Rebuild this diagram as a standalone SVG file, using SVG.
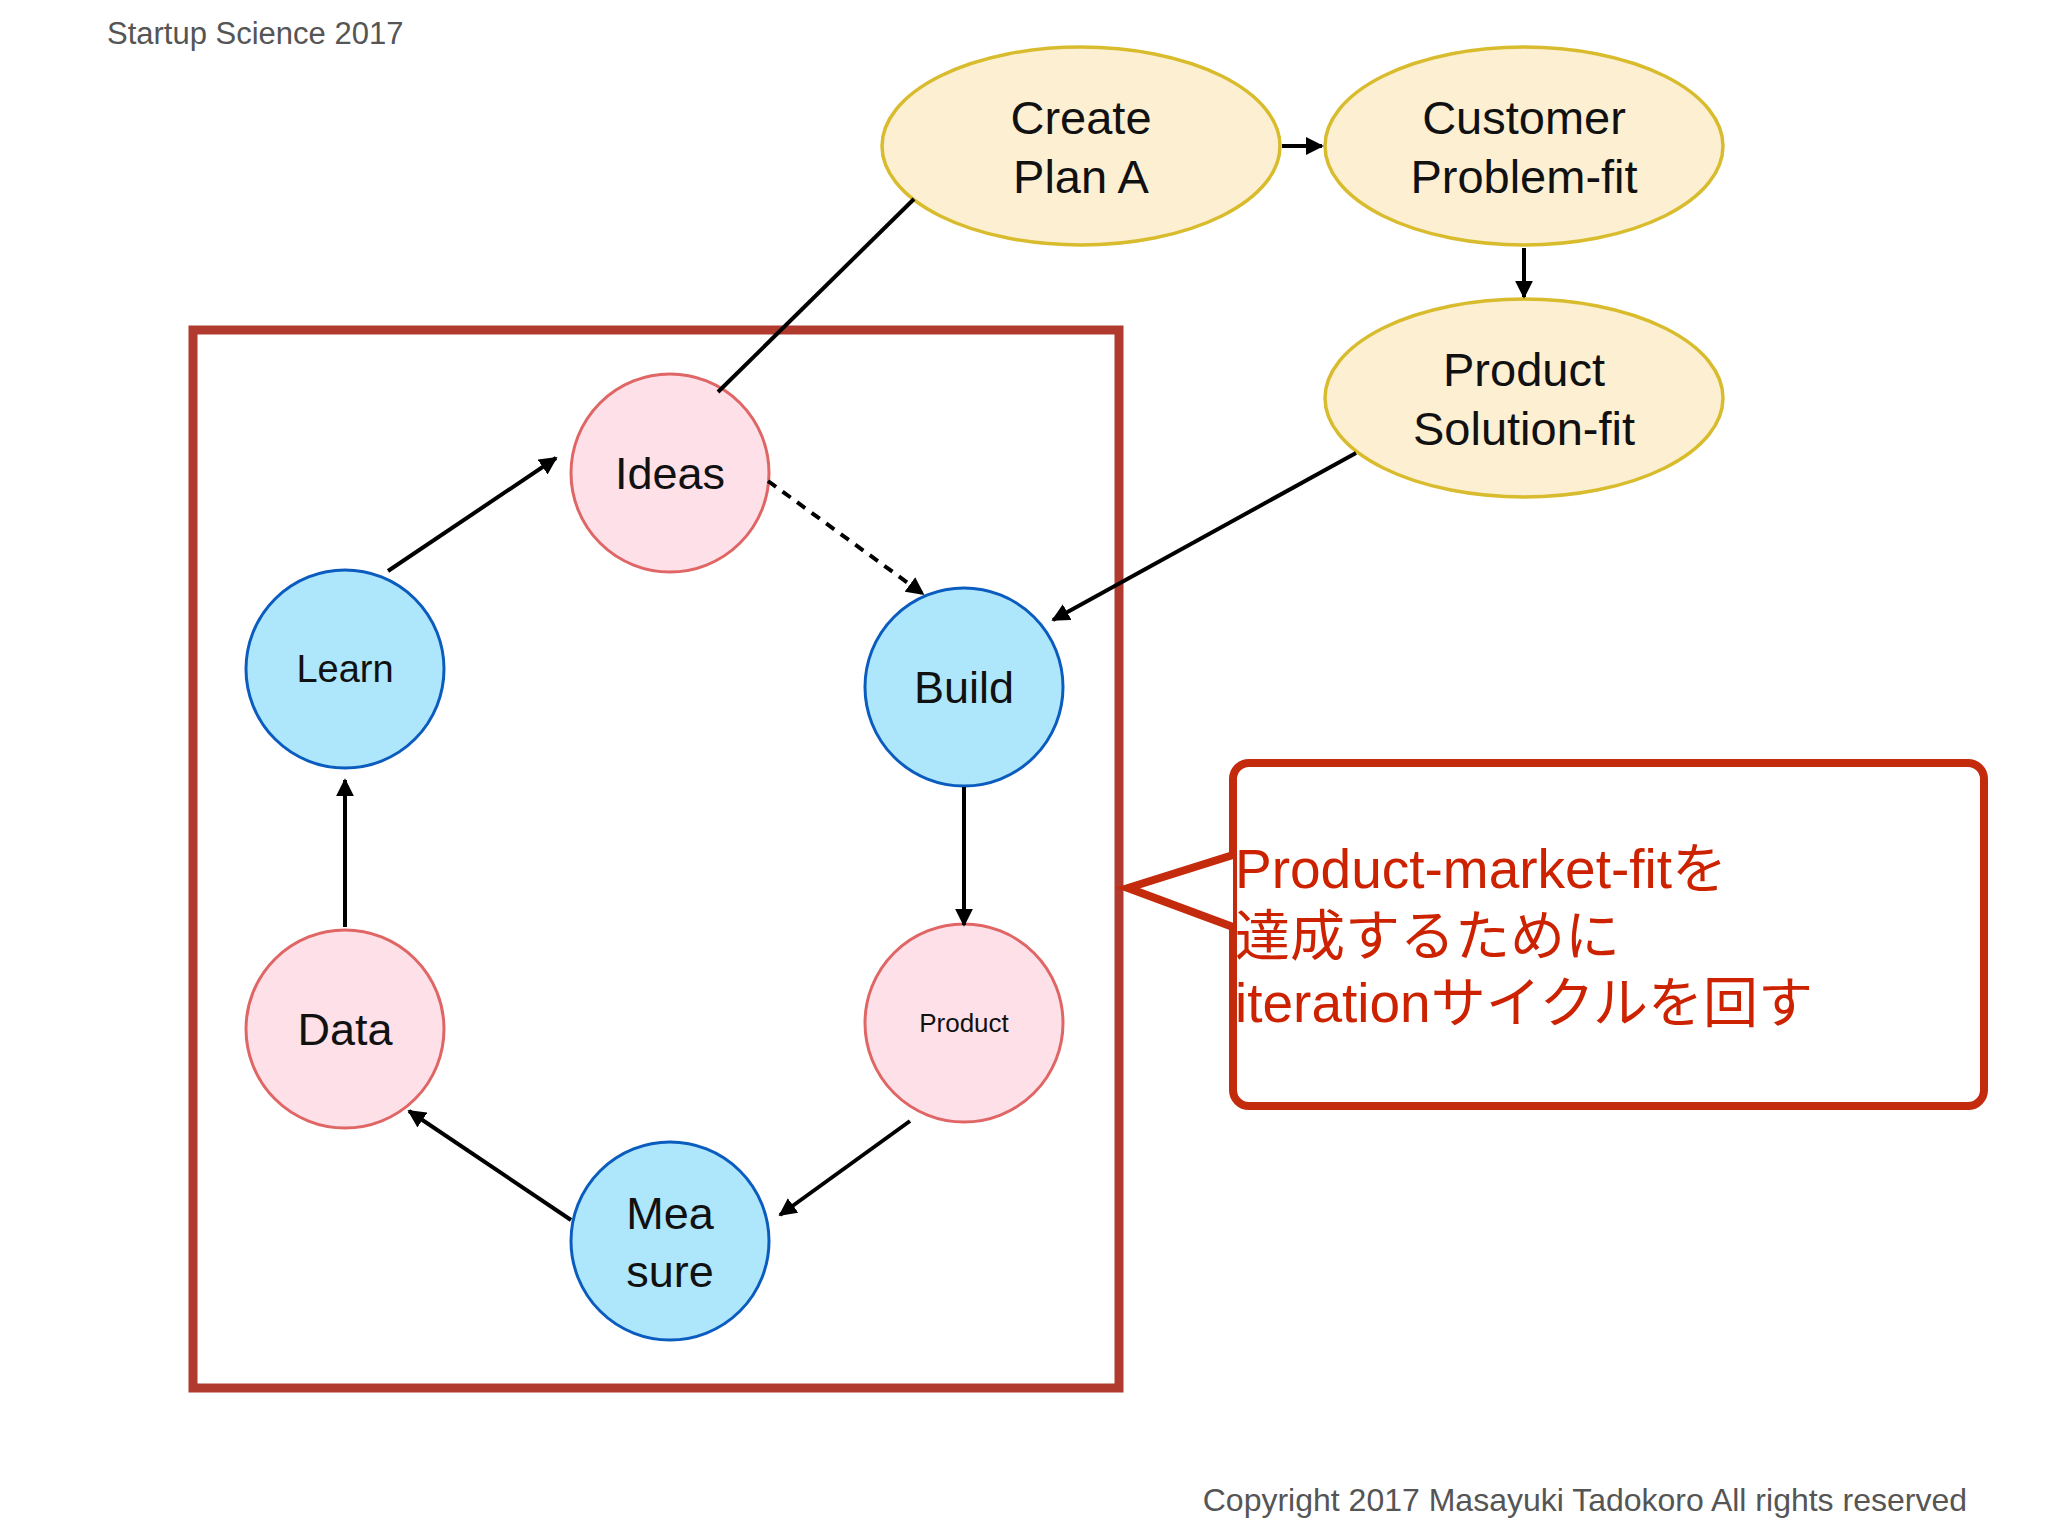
<svg xmlns="http://www.w3.org/2000/svg" width="2048" height="1536" viewBox="0 0 2048 1536">
<style>
text{font-family:"Liberation Sans",Arial,sans-serif;fill:#111}
.pink{fill:#fde0e8;stroke:#e06666;stroke-width:3}
.blue{fill:#aee6fb;stroke:#0b5cbf;stroke-width:3}
.ell{fill:#fdefd2;stroke:#d9bc2e;stroke-width:3.5}
.c{stroke:#000;stroke-width:4;fill:none}
.t{text-anchor:middle}
.red{fill:#cc2200;font-family:"Liberation Sans","Noto Sans CJK JP",sans-serif;font-size:55px}
</style>
<defs><marker id="a" viewBox="0 0 10 10" refX="9" refY="5" markerWidth="4.5" markerHeight="4.5" orient="auto"><path d="M0,0L10,5L0,10z" fill="#000"/></marker></defs>
<rect width="2048" height="1536" fill="#fff"/>
<text x="107" y="44" font-size="31" style="fill:#555">Startup Science 2017</text>
<rect x="193" y="330" width="926" height="1058" fill="none" stroke="#b03a2e" stroke-width="9"/>
<g id="createPlanA"><ellipse class="ell" cx="1081" cy="146" rx="199" ry="99"/><text class="t" x="1081" y="134" font-size="47">Create</text><text class="t" x="1081" y="193" font-size="47">Plan A</text></g>
<g id="customerProblemFit"><ellipse class="ell" cx="1524" cy="146" rx="199" ry="99"/><text class="t" x="1524" y="134" font-size="47">Customer</text><text class="t" x="1524" y="193" font-size="47">Problem-fit</text></g>
<g id="productSolutionFit"><ellipse class="ell" cx="1524" cy="398" rx="199" ry="99"/><text class="t" x="1524" y="386" font-size="47">Product</text><text class="t" x="1524" y="445" font-size="47">Solution-fit</text></g>
<g id="ideas"><circle class="pink" cx="670" cy="473" r="99"/><text class="t" x="670" y="489" font-size="45">Ideas</text></g>
<g id="learn"><circle class="blue" cx="345" cy="669" r="99"/><text class="t" x="345" y="682" font-size="38">Learn</text></g>
<g id="build"><circle class="blue" cx="964" cy="687" r="99"/><text class="t" x="964" y="703" font-size="45">Build</text></g>
<g id="data"><circle class="pink" cx="345" cy="1029" r="99"/><text class="t" x="345" y="1045" font-size="45">Data</text></g>
<g id="product"><circle class="pink" cx="964" cy="1023" r="99"/><text class="t" x="964" y="1032" font-size="26">Product</text></g>
<g id="measure"><circle class="blue" cx="670" cy="1241" r="99"/><text class="t" x="670" y="1229" font-size="45">Mea</text><text class="t" x="670" y="1287" font-size="45">sure</text></g>
<g id="connectors">
<line class="c" x1="718" y1="392" x2="914" y2="199"/>
<line class="c" x1="1282" y1="146" x2="1322" y2="146" marker-end="url(#a)"/>
<line class="c" x1="1524" y1="248" x2="1524" y2="297" marker-end="url(#a)"/>
<line class="c" x1="1356" y1="453" x2="1053" y2="620" marker-end="url(#a)"/>
<line class="c" x1="388" y1="571" x2="556" y2="458" marker-end="url(#a)"/>
<line class="c" x1="768" y1="481" x2="923" y2="594" stroke-dasharray="10,8" marker-end="url(#a)"/>
<line class="c" x1="964" y1="787" x2="964" y2="925" marker-end="url(#a)"/>
<line class="c" x1="910" y1="1121" x2="780" y2="1215" marker-end="url(#a)"/>
<line class="c" x1="571" y1="1220" x2="409" y2="1111" marker-end="url(#a)"/>
<line class="c" x1="345" y1="927" x2="345" y2="780" marker-end="url(#a)"/>
</g>
<g id="callout">
<rect x="1233" y="763" width="751" height="343" rx="16" fill="#fff" stroke="#c42a0c" stroke-width="8"/>
<polyline points="1233,855 1128,888 1233,927" fill="#fff" stroke="#c42a0c" stroke-width="8"/>
<text class="red" x="1235" y="888">Product-market-fitを</text>
<text class="red" x="1235" y="955">達成するために</text>
<text class="red" x="1235" y="1022">iterationサイクルを回す</text>
</g>
<text x="1967" y="1511" font-size="32" text-anchor="end" style="fill:#555">Copyright 2017 Masayuki Tadokoro All rights reserved</text>
</svg>
